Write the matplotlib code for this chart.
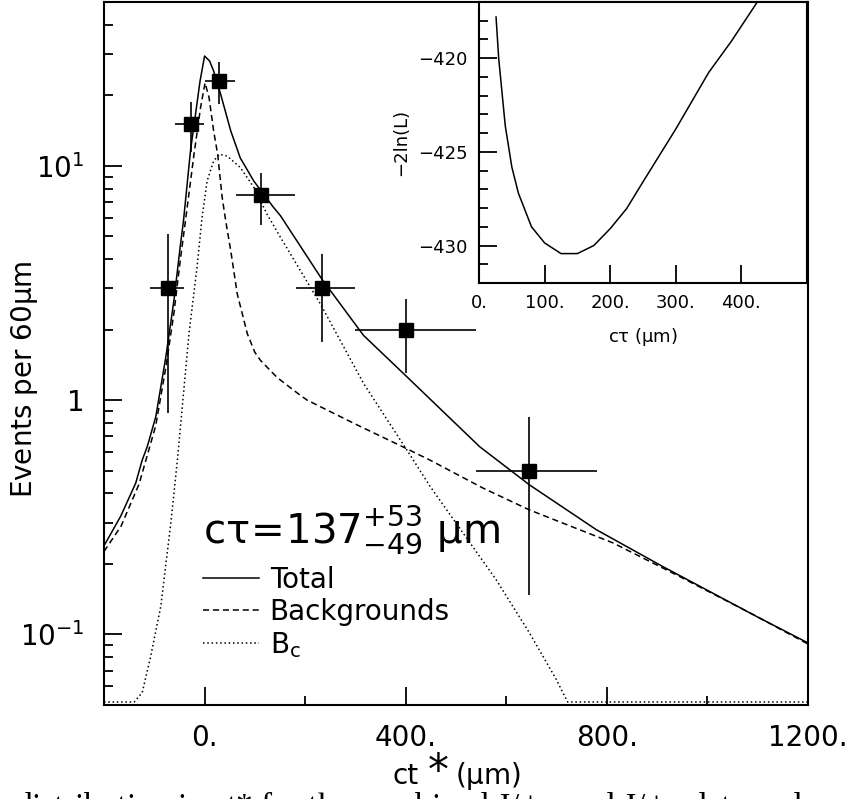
import matplotlib.pyplot as plt
from matplotlib.lines import Line2D
from matplotlib.ticker import FixedLocator, NullFormatter, MultipleLocator, LogLocator

plt.rcParams['mathtext.default'] = 'regular'
plt.rcParams['font.family'] = 'DejaVu Sans'

# --- data points (ct* in um, events per 60 um)
pt_x = [-73, -26, 28, 112, 234, 400, 645]
pt_y = [3.0, 15.1, 23.0, 7.5, 3.0, 2.0, 0.5]
pt_xlo = [-109, -58, 0, 62, 181, 300, 540]
pt_xhi = [-40, -2, 60, 180, 299, 540, 780]
pt_ylo = [0.88, 11.4, 18.3, 5.6, 1.77, 1.30, 0.147]
pt_yhi = [5.1, 18.8, 27.6, 9.3, 4.2, 2.69, 0.85]

# --- fit curves
tot_x = [-200, -167, -137, -124, -114, -97, -77, -61, -48, -42, -28, -18, -9, 0,
         10, 18, 32, 52, 71, 98, 137, 151, 233, 316, 402, 547, 646, 779, 911, 1102, 1200]
tot_y = [0.239, 0.319, 0.442, 0.555, 0.633, 0.85, 1.53, 2.66, 4.6, 5.8, 11.6, 16.6, 23, 29.4,
         28, 25.4, 20.2, 14.1, 10.8, 8.6, 6.65, 6.12, 3.29, 1.89, 1.26, 0.633, 0.435, 0.28, 0.195, 0.118, 0.092]

bkg_x = [-200, -166, -130, -97, -77, -61, -48, -38, -21, -8, 1, 9, 18, 26, 35, 42, 52, 65,
         85, 100, 111, 144, 190, 204, 300, 389, 448, 554, 646, 812, 944, 1096, 1200]
bkg_y = [0.226, 0.29, 0.44, 0.78, 1.38, 2.35, 4.0, 5.83, 11.2, 17.7, 22.6, 19.5, 14.1, 11.2, 7.33, 5.83, 4.35, 2.84,
         1.92, 1.6, 1.48, 1.25, 1.05, 1.0, 0.79, 0.64, 0.555, 0.421, 0.34, 0.246, 0.177, 0.12, 0.091]

bc_x = [-200, -140, -124, -107, -87, -67, -54, -31, -15, -5, 5, 18, 30, 45, 71, 98, 124,
        151, 230, 316, 405, 448, 514, 580, 646, 699, 722, 1200]
bc_y = [0.0515, 0.0515, 0.0565, 0.081, 0.132, 0.30, 0.556, 1.92, 3.69, 6.03, 8.6, 10.5, 11.2, 11.0, 9.84, 8.09, 6.23,
        4.95, 2.58, 1.18, 0.6, 0.43, 0.271, 0.171, 0.1016, 0.0645, 0.0515, 0.0515]

# --- inset: -2 ln(L) scan vs c*tau
ins_x = [26, 30, 40, 50, 60, 80, 100, 125, 150, 175, 200, 225, 250, 300, 350, 385, 425]
ins_y = [-417.8, -420.0, -423.6, -425.8, -427.2, -429.0, -429.86, -430.43, -430.43, -430.0,
         -429.1, -428.03, -426.6, -423.78, -420.77, -419.08, -416.96]

fig = plt.figure(figsize=(8.5, 7.99), dpi=100)
ax = fig.add_axes([104/850, 1-705/799, 704/850, 703/799])

ax.plot(tot_x, tot_y, color='k', lw=1.1)
ax.plot(bkg_x, bkg_y, color='k', lw=1.1, ls=(0, (4, 2.5)))
ax.plot(bc_x, bc_y, color='k', lw=1.1, ls=(0, (1, 1.8)))

xerr = [[c - lo for c, lo in zip(pt_x, pt_xlo)], [hi - c for c, hi in zip(pt_x, pt_xhi)]]
yerr = [[c - lo for c, lo in zip(pt_y, pt_ylo)], [hi - c for c, hi in zip(pt_y, pt_yhi)]]
ax.errorbar(pt_x, pt_y, xerr=xerr, yerr=yerr, fmt='s', color='k', ms=9.5,
            elinewidth=1.2, capsize=0)

ax.set_yscale('log')
ax.set_xlim(-200, 1200)
ax.set_ylim(0.05, 50)
ax.set_xticks([0, 400, 800, 1200], labels=['0.', '400.', '800.', '1200.'])
ax.xaxis.set_minor_locator(FixedLocator([200, 600, 1000]))
ax.set_yticks([0.1, 1, 10], labels=[r'$10^{-1}$', '1', r'$10^{1}$'])
ax.yaxis.set_minor_locator(LogLocator(base=10, subs=range(2, 10)))
ax.yaxis.set_minor_formatter(NullFormatter())
ax.tick_params(which='both', direction='in', top=False, right=False, width=1.3)
ax.tick_params(which='major', length=13, labelsize=20, pad=14)
ax.tick_params(which='minor', length=6.5)
for s in ax.spines.values():
    s.set_linewidth(1.5)

ax.text(0.1406, 0.2304, r'$c\tau\!=\!137^{+53}_{-49}\ \mu$m', fontsize=29,
        transform=ax.transAxes, va='baseline', ha='left')
handles = [Line2D([], [], color='k', lw=1.1),
           Line2D([], [], color='k', lw=1.1, ls=(0, (4, 2.5))),
           Line2D([], [], color='k', lw=1.1, ls=(0, (1, 1.8)))]
ax.legend(handles, ['Total', 'Backgrounds', r'B$_c$'], loc='upper left',
          bbox_to_anchor=(0.1406, 0.198), frameon=False, fontsize=20,
          handlelength=2.0, handletextpad=0.4, labelspacing=0.15,
          borderaxespad=0, borderpad=0)

fig.text(25/850, 1-379/799, r'Events per 60$\mu$m', rotation=90, fontsize=20,
         ha='center', va='center')
fig.text(392/850, 1-784/799, 'ct', fontsize=20, ha='left', va='baseline')
fig.text(428/850, 1-784/799, '*', fontsize=30, ha='left', va='baseline')
fig.text(455/850, 1-784/799, r'($\mu$m)', fontsize=20, ha='left', va='baseline')

# cut-off caption line at the bottom of the scan
fig.text(15/850, 1-789/799, r'distribution in ct* for the combined J/$\psi\mu$ and J/$\psi$e data and',
         fontsize=24, family='Liberation Serif', ha='left', va='top')

# inset
ax2 = fig.add_axes([479/850, 1-283/799, 328/850, 281/799])
ax2.plot(ins_x, ins_y, color='k', lw=1.1)
ax2.set_xlim(0, 500)
ax2.set_ylim(-432, -417)
ax2.set_xticks([0, 100, 200, 300, 400], labels=['0.', '100.', '200.', '300.', '400.'])
ax2.set_yticks([-430, -425, -420])
ax2.yaxis.set_minor_locator(MultipleLocator(1))
ax2.tick_params(which='both', direction='in', top=False, right=False, width=1.3)
ax2.tick_params(which='major', length=13, labelsize=13, pad=8)
ax2.tick_params(which='minor', length=6.5)
for s in ax2.spines.values():
    s.set_linewidth(1.5)
ax2.set_xlabel(r'c$\tau$ ($\mu$m)', fontsize=13, labelpad=10)
ax2.set_ylabel('\u22122ln(L)', fontsize=13, labelpad=6)

fig.savefig('out.png', dpi=100)
